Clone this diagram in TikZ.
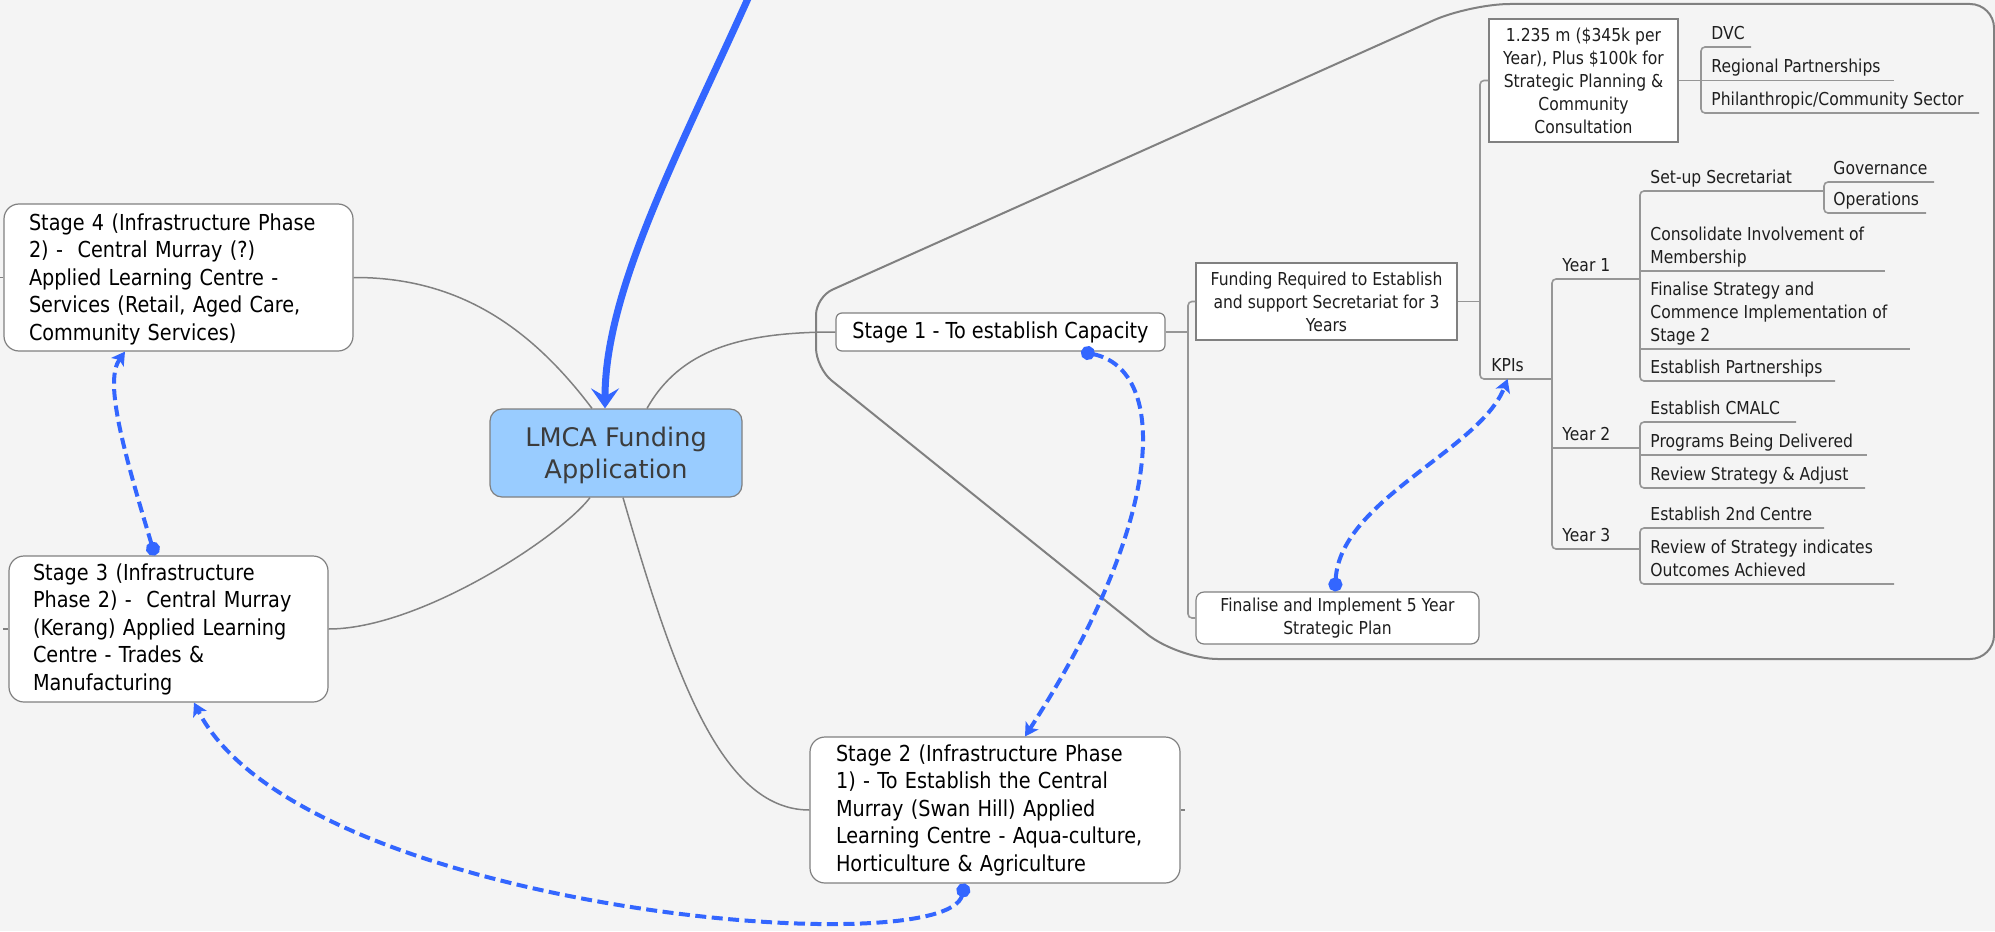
\documentclass[tikz,border=0pt]{standalone}
\usepackage{fontspec}
\setmainfont[FakeStretch=0.875]{DejaVu Sans}
\newfontfamily\wideface{DejaVu Sans}
\usetikzlibrary{arrows.meta,calc}
\definecolor{bgc}{RGB}{244,244,244}
\definecolor{linec}{RGB}{128,128,128}
\definecolor{brc}{RGB}{150,150,150}
\definecolor{bluec}{RGB}{51,102,255}
\definecolor{centc}{RGB}{153,204,255}
\definecolor{centtext}{RGB}{60,60,60}
\definecolor{lbltext}{RGB}{30,30,30}
\newcommand\stgfont{\fontsize{11}{13.75}\selectfont}
\newcommand\lblfont{\fontsize{8.9}{11.5}\selectfont}
\newcommand\ctrfont{\wideface\fontsize{12.8}{15.8}\selectfont}
\begin{document}
\begin{tikzpicture}[x=0.5pt,y=-0.5pt,
  stagebox/.style={draw=linec, line width=0.6pt, fill=white, rounded corners=7.5pt,
    align=left, font=\stgfont, inner ysep=0pt},
  plainbox/.style={draw=linec, line width=0.6pt, fill=white, align=center,
    font=\lblfont, text=lbltext, inner sep=0pt},
  lbl/.style={anchor=south west, inner sep=0pt, align=left, font=\lblfont, text=lbltext},
  conn/.style={draw=linec, line width=0.75pt},
  br/.style={draw=brc, line width=0.8pt},
  bound/.style={draw=linec, line width=1pt},
  dashconn/.style={draw=bluec, line width=2pt, dash pattern=on 5.5pt off 2.75pt,
    {Circle[length=7pt,width=7pt]}-{Stealth[length=6.5pt,width=7.5pt,inset=1.5pt]}},
  bigarrow/.style={draw=bluec, line width=3.5pt,
    -{Stealth[length=10pt,width=14pt,inset=4pt]}}
]
\useasboundingbox (0,0) rectangle (1995,931);
\fill[bgc] (0,0) rectangle (1995,931);

% boundary around stage 1 sub-tree
\draw[bound] (1700,4) [rounded corners=12pt] -- (1994,4) -- (1994,659)
  [rounded corners=20pt] -- (1178,659) [rounded corners=10pt] -- (816,368) [rounded corners=9pt] -- (816,297)
  [rounded corners=20pt] -- (1470,4) [sharp corners] -- cycle;

% central topic
\node[draw=linec, line width=0.6pt, fill=centc, rounded corners=6pt, align=center,
  font=\ctrfont, text=centtext, minimum width=126pt, minimum height=44pt, inner sep=0pt]
  (ctr) at (616,453) {\rule{0pt}{12pt}LMCA Funding\\Application};

% stage boxes
\node[stagebox, text width=149.5pt, inner xsep=12.5pt, minimum height=73.5pt]
  (s4) at (178.5,277.5) {\rule{0pt}{10pt}Stage 4 (Infrastructure Phase\\2) -~ Central Murray (?)\\Applied Learning Centre -\\Services (Retail, Aged Care,\\Community Services)};
\node[stagebox, text width=135.5pt, inner xsep=12pt, minimum height=73pt]
  (s3) at (168.5,629) {Stage 3 (Infrastructure\\Phase 2) -~ Central Murray\\(Kerang) Applied Learning\\Centre - Trades \&\\Manufacturing};
\node[stagebox, text width=159pt, inner xsep=13pt, minimum height=73pt]
  (s2) at (995,810) {Stage 2 (Infrastructure Phase\\1) - To Establish the Central\\Murray (Swan Hill) Applied\\Learning Centre - Aqua-culture,\\Horticulture \& Agriculture};
\node[stagebox, rounded corners=3pt, align=center, minimum width=164.5pt, minimum height=19pt, inner sep=0pt]
  (s1) at (1000.5,332) {Stage 1 - To establish Capacity};

% boxes of stage 1 subtree
\node[plainbox, minimum width=130.5pt, minimum height=38.5pt]
  (fund) at (1326.5,301.5) {Funding Required to Establish\\and support Secretariat for 3\\Years};
\node[plainbox, minimum width=94.5pt, minimum height=61.5pt]
  (amt) at (1583.5,80.5) {1.235 m (\$345k per\\Year), Plus \$100k for\\Strategic Planning \&\\Community\\Consultation};
\node[plainbox, rounded corners=4pt, minimum width=141.5pt, minimum height=26pt]
  (fin) at (1337.5,618) {Finalise and Implement 5 Year\\Strategic Plan};

% underlined topics
\node[lbl] (dvc) at (1711,47) {DVC\strut};
\node[lbl] (reg) at (1711,80) {Regional Partnerships\strut};
\node[lbl] (phil) at (1711,113) {Philanthropic/Community Sector\strut};
\node[lbl] (kpis) at (1491,379) {KPIs\strut};
\node[lbl] (y1) at (1562,279) {Year 1\strut};
\node[lbl] (y2) at (1562,448) {Year 2\strut};
\node[lbl] (y3) at (1562,549) {Year 3\strut};
\node[lbl] (setup) at (1650,191) {Set-up Secretariat\strut};
\node[lbl] (gov) at (1833,182) {Governance\strut};
\node[lbl] (ops) at (1833,213) {Operations\strut};
\node[lbl] (cons) at (1650,271) {Consolidate Involvement of\\Membership\strut};
\node[lbl] (fstrat) at (1650,349) {Finalise Strategy and\\Commence Implementation of\\Stage 2\strut};
\node[lbl] (epart) at (1650,381) {Establish Partnerships\strut};
\node[lbl] (cmalc) at (1650,422) {Establish CMALC\strut};
\node[lbl] (prog) at (1650,455) {Programs Being Delivered\strut};
\node[lbl] (rev) at (1650,488) {Review Strategy \& Adjust\strut};
\node[lbl] (cen2) at (1650,528) {Establish 2nd Centre\strut};
\node[lbl] (ros) at (1650,584) {Review of Strategy indicates\\Outcomes Achieved\strut};

% central branches
\draw[conn] ([xshift=-12pt]ctr.north) .. controls (532,329) and (460,277) .. (s4.east);
\draw[conn] ([xshift=15.5pt]ctr.north) .. controls (680,350) and (740,332) .. (s1.west);
\draw[conn] ([xshift=-13pt]ctr.south) .. controls (560,537) and (420,629) .. (s3.east);
\draw[conn] ([xshift=3.5pt]ctr.south) .. controls (673,670) and (720,810) .. (s2.west);
% collapsed stubs
\draw[conn] (s4.west) -- (0,277.5);
\draw[conn] (s3.west) -- (3,629);
\draw[conn] (s2.east) -- (1185,810);

% stage 1 subtree brackets
\draw[br] (s1.east) -- (1188,332);
\draw[br, rounded corners=2pt] (fund.west) -- (1188,301.5) -- (1188,618) -- (fin.west);
\draw[br] (fund.east) -- (1480,301.5);
\draw[br, rounded corners=2pt] (amt.west) -- (1480,80.5) -- (1480,379) -- (1552,379);
\draw[br] (amt.east) -- (1894,80.5);
\draw[br, rounded corners=2pt] (1751,47) -- (1701,47) -- (1701,113) -- (1979,113);
\draw[br, rounded corners=2pt] (1640,279) -- (1552,279) -- (1552,549) -- (1640,549);
\draw[br] (1552,448) -- (1640,448);
\draw[br, rounded corners=2pt] (1824,191) -- (1640,191) -- (1640,381) -- (1835,381);
\draw[br] (1640,271) -- (1885,271);
\draw[br] (1640,349) -- (1910,349);
\draw[br, rounded corners=2pt] (1934,182) -- (1824,182) -- (1824,213) -- (1926,213);
\draw[br, rounded corners=2pt] (1796,422) -- (1640,422) -- (1640,488) -- (1865,488);
\draw[br] (1640,455) -- (1867,455);
\draw[br, rounded corners=2pt] (1824,528) -- (1640,528) -- (1640,584) -- (1894,584);

% blue relationships
\coordinate (topin) at (750,-6);
\draw[bigarrow] (topin) .. controls (680,150) and (605,289) .. ([xshift=-5.5pt]ctr.north);
\draw[dashconn] ([xshift=-6.75pt]s3.north) .. controls (120,440) and (105,380) .. ([xshift=-26.75pt]s4.south);
\draw[dashconn] ([xshift=-15pt]s2.south) .. controls (945,965) and (300,910) .. ([xshift=12.75pt]s3.south);
\draw[dashconn] ([xshift=40.25pt]s1.south) .. controls (1170,370) and (1165,520) .. ([xshift=15pt]s2.north);
\draw[dashconn] ([xshift=-1.25pt]fin.north) .. controls (1340,500) and (1480,450) .. (kpis.south);
\end{tikzpicture}
\end{document}
